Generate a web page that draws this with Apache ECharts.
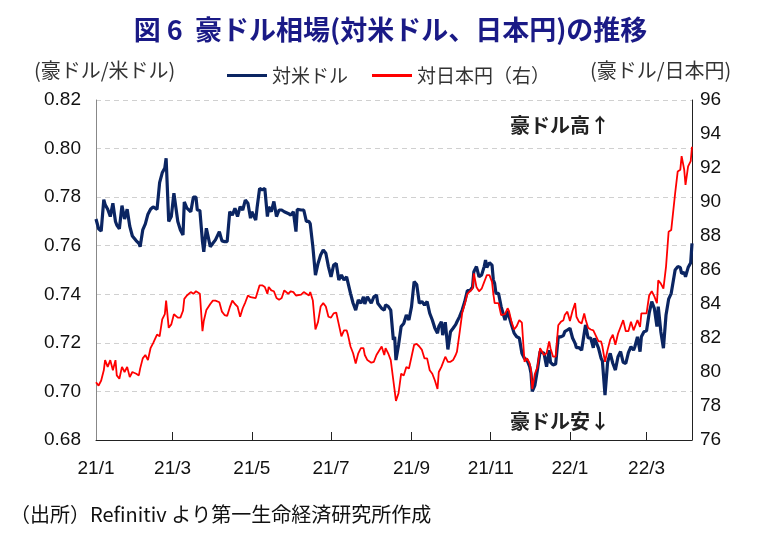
<!DOCTYPE html>
<html>
<head>
<meta charset="utf-8">
<script src="https://cdn.jsdelivr.net/npm/echarts@6/dist/echarts.min.js"></script>
<style>
html, body { margin: 0; padding: 0; background: #fff; }
#chart { width: 781px; height: 545px; }
</style>
</head>
<body>
<div id="chart"></div>
<script>
// 日付（読み取り値）
var dates = [
  '2021-01-01','2021-01-03','2021-01-05','2021-01-07','2021-01-08','2021-01-10','2021-01-12','2021-01-14','2021-01-16','2021-01-17',
  '2021-01-19','2021-01-21','2021-01-23','2021-01-25','2021-01-27','2021-01-29','2021-02-01','2021-02-03','2021-02-04','2021-02-06',
  '2021-02-08','2021-02-10','2021-02-12','2021-02-14','2021-02-17','2021-02-19','2021-02-21','2021-02-23','2021-02-24','2021-02-26',
  '2021-02-28','2021-03-02','2021-03-05','2021-03-07','2021-03-09','2021-03-10','2021-03-12','2021-03-15','2021-03-17',
  '2021-03-19','2021-03-20','2021-03-22','2021-03-24','2021-03-25','2021-03-27','2021-03-28','2021-03-30','2021-04-01','2021-04-03',
  '2021-04-06','2021-04-08','2021-04-10','2021-04-12','2021-04-14','2021-04-16','2021-04-18','2021-04-20','2021-04-22','2021-04-24',
  '2021-04-26','2021-04-28','2021-04-30','2021-05-01','2021-05-04','2021-05-05','2021-05-07','2021-05-09','2021-05-11','2021-05-13',
  '2021-05-14','2021-05-16','2021-05-18','2021-05-20','2021-05-22','2021-05-24','2021-05-26','2021-05-29','2021-05-31','2021-06-02',
  '2021-06-04','2021-06-05','2021-06-08','2021-06-10','2021-06-12','2021-06-14','2021-06-15','2021-06-17','2021-06-19','2021-06-21',
  '2021-06-23','2021-06-25','2021-06-27','2021-06-29','2021-07-01','2021-07-03','2021-07-05','2021-07-07','2021-07-09','2021-07-11',
  '2021-07-13','2021-07-14','2021-07-16','2021-07-18','2021-07-20','2021-07-22','2021-07-24','2021-07-26','2021-07-27','2021-07-29',
  '2021-08-01','2021-08-03','2021-08-05','2021-08-06','2021-08-09','2021-08-11','2021-08-12','2021-08-14','2021-08-16','2021-08-18',
  '2021-08-19','2021-08-20','2021-08-22','2021-08-24','2021-08-26','2021-08-28','2021-08-30','2021-09-01','2021-09-03','2021-09-05',
  '2021-09-07','2021-09-09','2021-09-11','2021-09-13','2021-09-15','2021-09-17','2021-09-19','2021-09-21','2021-09-22','2021-09-24',
  '2021-09-25','2021-09-27','2021-09-29','2021-10-01','2021-10-03','2021-10-05','2021-10-06','2021-10-08','2021-10-10','2021-10-12',
  '2021-10-14','2021-10-16','2021-10-18','2021-10-19','2021-10-21','2021-10-23','2021-10-25','2021-10-27','2021-10-28','2021-10-29',
  '2021-10-31','2021-11-02','2021-11-03',
  '2021-11-04','2021-11-05','2021-11-07','2021-11-09','2021-11-12','2021-11-14','2021-11-15','2021-11-17','2021-11-19','2021-11-21',
  '2021-11-23','2021-11-25','2021-11-27','2021-11-29','2021-12-01','2021-12-02','2021-12-03','2021-12-05','2021-12-07','2021-12-09',
  '2021-12-10','2021-12-12','2021-12-14','2021-12-16','2021-12-17','2021-12-19','2021-12-21','2021-12-23','2021-12-25','2021-12-27',
  '2021-12-28','2021-12-30','2022-01-01','2022-01-03','2022-01-05','2022-01-06','2022-01-08','2022-01-10','2022-01-12','2022-01-13',
  '2022-01-15','2022-01-17','2022-01-19',
  '2022-01-20','2022-01-23','2022-01-25','2022-01-26','2022-01-28','2022-01-30','2022-02-01','2022-02-03','2022-02-05','2022-02-07',
  '2022-02-09','2022-02-11','2022-02-13','2022-02-15','2022-02-17','2022-02-19','2022-02-20','2022-02-22','2022-02-24','2022-02-25',
  '2022-02-27','2022-03-01','2022-03-03','2022-03-05','2022-03-07','2022-03-09','2022-03-10','2022-03-12','2022-03-14','2022-03-16',
  '2022-03-18','2022-03-20','2022-03-21','2022-03-23','2022-03-25','2022-03-27','2022-03-28','2022-03-30','2022-03-31','2022-04-02',
  '2022-04-04','2022-04-05'
]

// 豪ドル/米ドル（左軸）
var audUsd = [
  0.771,0.767,0.766,0.779,0.777,0.775,0.772,0.7775,0.770,0.7685,
  0.767,0.7765,0.771,0.775,0.768,0.764,0.762,0.761,0.7596,0.7665,
  0.769,0.773,0.775,0.776,0.775,0.786,0.790,0.792,0.796,0.770,
  0.772,0.7816,0.770,0.7665,0.7644,0.778,0.7755,0.774,0.780,
  0.780,0.7747,0.7745,0.7617,0.7575,0.7672,0.7665,0.7596,0.761,0.7624,
  0.7658,0.762,0.7617,0.7617,0.774,0.7726,0.7754,0.772,0.7761,0.7747,
  0.7788,0.7775,0.7713,0.774,0.7706,0.7754,0.7836,0.783,0.7836,0.772,
  0.776,0.774,0.7782,0.772,0.7747,0.7747,0.774,0.7733,0.7726,0.774,
  0.7658,0.775,0.7747,0.7747,0.770,0.770,0.769,0.7596,0.7479,0.7527,
  0.7562,0.7582,0.7569,0.7514,0.7472,0.752,0.7527,0.7459,0.7479,0.7459,
  0.7472,0.7466,0.7404,0.7363,0.7335,0.7377,0.7363,0.739,0.736,0.739,
  0.7363,0.739,0.7397,0.7363,0.7342,0.7335,0.7356,0.735,0.7335,0.7212,
  0.7225,0.7129,0.7191,0.7267,0.728,0.7315,0.7294,0.7349,0.7452,0.744,
  0.7363,0.737,0.7356,0.737,0.7322,0.7294,0.726,0.724,0.7267,0.7287,
  0.7232,0.7285,0.7173,0.7246,0.726,0.7275,0.7287,0.7308,0.7335,0.737,
  0.7415,0.7415,0.743,0.7493,0.7514,0.7472,0.748,0.7515,0.7541,0.751,
  0.753,0.752,0.7459,
  0.7445,0.7404,0.7404,0.7349,0.7294,0.733,0.7329,0.7274,0.724,0.7225,
  0.722,0.7157,0.7136,0.7129,0.7102,0.7075,0.700,0.7025,0.709,0.7164,
  0.716,0.7157,0.7102,0.717,0.712,0.7109,0.7113,0.7225,0.7225,0.723,
  0.7246,0.7253,0.726,0.722,0.7198,0.718,0.718,0.717,0.724,0.7274,
  0.722,0.722,0.718,
  0.7219,0.7178,0.7136,0.7125,0.6985,0.712,0.7157,0.7116,0.7088,0.7143,
  0.7164,0.712,0.7115,0.716,0.7184,0.717,0.7184,0.7225,0.7164,0.7225,
  0.7246,0.725,0.7322,0.737,0.7342,0.7267,0.7349,0.7246,0.7178,0.7315,
  0.738,0.7404,0.7404,0.750,0.7514,0.751,0.7486,0.749,0.7472,0.751,
  0.753,0.761
]

// 豪ドル/日本円（右軸）
var audJpy = [
  79.4,79.2,79.5,80.1,80.7,80.3,80.7,80.1,80.7,79.8,
  79.6,80.3,80.0,80.3,79.7,80.0,79.9,79.8,80.2,80.8,
  81.0,80.7,81.4,81.7,82.2,82.1,83.1,83.4,84.2,82.6,
  82.8,83.4,83.2,83.2,83.6,84.3,84.5,84.7,84.6,
  84.75,84.7,84.6,82.4,83.0,83.65,83.7,84.0,84.2,84.2,
  84.1,83.55,83.35,83.3,83.8,84.2,84.0,83.85,83.25,83.75,
  84.1,84.5,84.4,84.45,84.35,84.6,85.1,85.1,85.0,84.6,
  85.0,84.8,84.75,84.35,84.25,84.35,84.8,84.6,84.75,84.7,
  84.5,84.6,84.55,84.7,84.6,84.5,84.7,84.2,82.5,82.95,
  83.85,84.05,83.85,83.25,83.2,83.45,83.5,82.8,82.1,82.45,
  82.45,82.2,81.5,81.1,80.5,81.1,81.4,81.4,81.0,80.7,
  80.55,80.6,81.0,81.1,81.5,81.0,81.4,81.1,80.7,79.5,
  78.9,78.3,78.75,79.9,79.8,80.3,80.2,80.9,81.6,81.65,
  81.5,81.3,80.8,80.8,80.1,79.9,79.5,79.0,80.0,80.3,
  80.35,80.9,80.6,80.6,80.7,81.0,81.2,82.3,83.45,84.0,
  84.6,84.75,84.9,85.8,85.0,84.75,84.9,85.3,85.5,85.7,
  85.7,85.3,84.6,
  84.05,84.0,84.05,83.35,83.4,83.75,83.6,82.95,82.5,82.7,
  83.05,82.9,80.6,80.8,80.5,80.1,79.0,79.9,80.3,81.4,
  81.3,81.0,81.1,81.8,81.4,80.9,80.9,82.75,82.95,83.05,
  83.35,83.55,83.0,83.6,84.05,83.25,82.95,82.85,83.45,83.1,
  82.6,82.5,82.45,
  82.45,81.8,81.8,81.5,80.6,81.3,81.9,82.2,81.6,82.25,
  82.65,83.05,82.4,82.4,82.95,82.45,82.45,83.05,82.65,83.45,
  83.45,83.45,84.5,84.75,84.45,84.05,85.4,85.2,84.9,86.2,
  88.25,88.35,88.35,90.5,91.8,91.9,92.7,91.9,91.0,92.1,
  92.4,93.25
]

// 目盛りラベル（2か月ごと）
var tickDates = ['2021-01-01', '2021-03-01', '2021-05-01', '2021-07-01', '2021-09-01', '2021-11-01', '2022-01-01', '2022-03-01']

var JP = '"Noto Sans CJK JP", "Noto Sans", sans-serif'
var NUM = '"Liberation Sans", Arial, sans-serif'

// 日付文字列 → UTC ミリ秒
function toTime(s) {
  var p = s.split('-')
  return Date.UTC(+p[0], +p[1] - 1, +p[2])
}

var usdData = dates.map(function (d, i) { return [toTime(d), audUsd[i]] })
var jpyData = dates.map(function (d, i) { return [toTime(d), audJpy[i]] })
var tickValues = tickDates.map(toTime)

var chart = echarts.init(document.getElementById('chart'))

var option = {
  backgroundColor: '#fff',
  animation: false,
  title: {
    text: '図 6  豪ドル相場(対米ドル、日本円)の推移',
    left: 'center',
    top: 11,
    textStyle: {
      fontFamily: JP,
      fontSize: 27,
      fontWeight: 'bold',
      color: '#1a1a86'
    }
  },
  legend: {
    left: 222,
    top: 61,
    itemWidth: 40,
    itemHeight: 3,
    itemGap: 24,
    icon: 'rect',
    textStyle: { fontFamily: JP, fontSize: 19, color: '#333' },
    data: ['対米ドル', '対日本円（右）']
  },
  grid: {
    left: 96,
    right: 89,
    top: 100,
    bottom: 105
  },
  xAxis: {
    type: 'value',
    min: toTime('2021-01-01'),
    max: toTime('2022-04-05'),
    axisLine: { lineStyle: { color: '#222', width: 1 } },
    axisTick: {
      inside: true,
      length: 8,
      lineStyle: { color: '#222' },
      customValues: tickValues.slice(1)
    },
    axisLabel: {
      customValues: tickValues,
      margin: 19,
      fontFamily: NUM,
      fontSize: 19,
      color: '#111',
      formatter: function (v) {
        var d = new Date(v)
        return (d.getUTCFullYear() % 100) + '/' + (d.getUTCMonth() + 1)
      }
    },
    splitLine: { show: false }
  },
  yAxis: [
    {
      type: 'value',
      min: 0.68,
      max: 0.82,
      interval: 0.02,
      axisLine: { show: true, lineStyle: { color: '#888' } },
      axisTick: { show: false },
      axisLabel: {
        margin: 15,
        fontFamily: NUM,
        fontSize: 19,
        color: '#111',
        formatter: function (v) { return v.toFixed(2) }
      },
      splitLine: { lineStyle: { color: '#d0d0d0', type: [5, 4] } }
    },
    {
      type: 'value',
      min: 76,
      max: 96,
      interval: 2,
      axisLine: { show: true, lineStyle: { color: '#222' } },
      axisTick: { show: false },
      axisLabel: {
        margin: 8,
        fontFamily: NUM,
        fontSize: 19,
        color: '#111'
      },
      splitLine: { show: false }
    }
  ],
  series: [
    {
      name: '対米ドル',
      type: 'line',
      yAxisIndex: 0,
      data: usdData,
      showSymbol: false,
      color: '#0b2562',
      lineStyle: { width: 3.2, color: '#0b2562' },
      z: 3
    },
    {
      name: '対日本円（右）',
      type: 'line',
      yAxisIndex: 1,
      data: jpyData,
      showSymbol: false,
      color: '#ff0000',
      lineStyle: { width: 1.8, color: '#ff0000' },
      z: 4
    }
  ],
  graphic: [
    {
      type: 'text', left: 34, top: 60,
      style: { text: '(豪ドル/米ドル)', font: '20px ' + JP, fill: '#333' }
    },
    {
      type: 'text', left: 590, top: 60,
      style: { text: '(豪ドル/日本円)', font: '20px ' + JP, fill: '#333' }
    },
    {
      type: 'text', left: 510, top: 115,
      style: { text: '豪ドル高↑', font: 'bold 20px ' + JP, fill: '#222' }
    },
    {
      type: 'text', left: 510, top: 411,
      style: { text: '豪ドル安↓', font: 'bold 20px ' + JP, fill: '#222' }
    },
    {
      type: 'text', left: 10, top: 504,
      style: { text: '（出所）Refinitiv より第一生命経済研究所作成', font: '20px ' + JP, fill: '#111' }
    }
  ]
}

chart.setOption(option)
</script>
</body>
</html>
